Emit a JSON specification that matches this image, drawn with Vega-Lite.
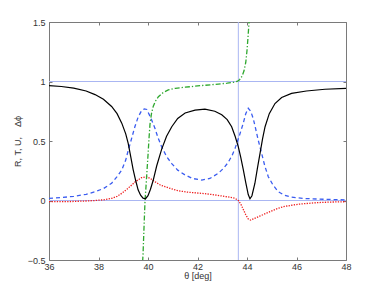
{
  "$schema": "https://vega.github.io/schema/vega-lite/v6.json",
  "autosize": "none",
  "width": 297,
  "height": 238,
  "padding": {"left": 49, "top": 22, "right": 36, "bottom": 33},
  "background": "white",
  "config": {
    "view": {"stroke": "#7a7a7a", "strokeWidth": 1},
    "axis": {"grid": false, "domain": false, "labelFlush": false, "tickColor": "#7a7a7a", "tickSize": -3, "labelFont": "Liberation Sans", "labelFontSize": 9, "labelColor": "#333", "titleFont": "Liberation Sans", "titleFontSize": 9, "titleFontWeight": "normal", "titleColor": "#333"}
  },
  "datasets": {
    "curves": [
      {"series": "R", "theta": 36, "value": 0.965}, {"series": "R", "theta": 36.5, "value": 0.958}, {"series": "R", "theta": 37, "value": 0.945}, {"series": "R", "theta": 37.5, "value": 0.92}, {"series": "R", "theta": 37.86, "value": 0.89}, {"series": "R", "theta": 38.2, "value": 0.85}, {"series": "R", "theta": 38.53, "value": 0.79}, {"series": "R", "theta": 38.75, "value": 0.73}, {"series": "R", "theta": 38.94, "value": 0.65}, {"series": "R", "theta": 39.1, "value": 0.56}, {"series": "R", "theta": 39.2, "value": 0.48}, {"series": "R", "theta": 39.3, "value": 0.37}, {"series": "R", "theta": 39.4, "value": 0.26}, {"series": "R", "theta": 39.5, "value": 0.17}, {"series": "R", "theta": 39.6, "value": 0.09}, {"series": "R", "theta": 39.7, "value": 0.045}, {"series": "R", "theta": 39.8, "value": 0.02}, {"series": "R", "theta": 39.9, "value": 0.015}, {"series": "R", "theta": 40.0, "value": 0.04}, {"series": "R", "theta": 40.1, "value": 0.095}, {"series": "R", "theta": 40.21, "value": 0.17}, {"series": "R", "theta": 40.35, "value": 0.29}, {"series": "R", "theta": 40.55, "value": 0.43}, {"series": "R", "theta": 40.75, "value": 0.54}, {"series": "R", "theta": 40.96, "value": 0.62}, {"series": "R", "theta": 41.2, "value": 0.69}, {"series": "R", "theta": 41.5, "value": 0.735}, {"series": "R", "theta": 41.9, "value": 0.76}, {"series": "R", "theta": 42.3, "value": 0.767}, {"series": "R", "theta": 42.7, "value": 0.75}, {"series": "R", "theta": 42.98, "value": 0.72}, {"series": "R", "theta": 43.2, "value": 0.68}, {"series": "R", "theta": 43.38, "value": 0.62}, {"series": "R", "theta": 43.52, "value": 0.54}, {"series": "R", "theta": 43.65, "value": 0.45}, {"series": "R", "theta": 43.75, "value": 0.36}, {"series": "R", "theta": 43.85, "value": 0.26}, {"series": "R", "theta": 43.95, "value": 0.15}, {"series": "R", "theta": 44.05, "value": 0.05}, {"series": "R", "theta": 44.12, "value": 0.015}, {"series": "R", "theta": 44.2, "value": 0.04}, {"series": "R", "theta": 44.32, "value": 0.145}, {"series": "R", "theta": 44.42, "value": 0.27}, {"series": "R", "theta": 44.53, "value": 0.4}, {"series": "R", "theta": 44.63, "value": 0.52}, {"series": "R", "theta": 44.73, "value": 0.62}, {"series": "R", "theta": 44.9, "value": 0.73}, {"series": "R", "theta": 45.13, "value": 0.815}, {"series": "R", "theta": 45.4, "value": 0.865}, {"series": "R", "theta": 45.8, "value": 0.9}, {"series": "R", "theta": 46.4, "value": 0.92}, {"series": "R", "theta": 47.15, "value": 0.935}, {"series": "R", "theta": 48, "value": 0.943},
      {"series": "T", "theta": 36, "value": 0.018}, {"series": "T", "theta": 36.5, "value": 0.025}, {"series": "T", "theta": 37, "value": 0.035}, {"series": "T", "theta": 37.5, "value": 0.052}, {"series": "T", "theta": 37.86, "value": 0.074}, {"series": "T", "theta": 38.2, "value": 0.1}, {"series": "T", "theta": 38.53, "value": 0.145}, {"series": "T", "theta": 38.75, "value": 0.2}, {"series": "T", "theta": 38.94, "value": 0.256}, {"series": "T", "theta": 39.1, "value": 0.34}, {"series": "T", "theta": 39.2, "value": 0.42}, {"series": "T", "theta": 39.35, "value": 0.53}, {"series": "T", "theta": 39.47, "value": 0.62}, {"series": "T", "theta": 39.6, "value": 0.7}, {"series": "T", "theta": 39.74, "value": 0.755}, {"series": "T", "theta": 39.85, "value": 0.77}, {"series": "T", "theta": 39.95, "value": 0.765}, {"series": "T", "theta": 40.1, "value": 0.7}, {"series": "T", "theta": 40.28, "value": 0.607}, {"series": "T", "theta": 40.4, "value": 0.53}, {"series": "T", "theta": 40.55, "value": 0.452}, {"series": "T", "theta": 40.75, "value": 0.37}, {"series": "T", "theta": 40.96, "value": 0.31}, {"series": "T", "theta": 41.2, "value": 0.255}, {"series": "T", "theta": 41.5, "value": 0.214}, {"series": "T", "theta": 41.8, "value": 0.185}, {"series": "T", "theta": 42.17, "value": 0.172}, {"series": "T", "theta": 42.5, "value": 0.185}, {"series": "T", "theta": 42.84, "value": 0.229}, {"series": "T", "theta": 43.05, "value": 0.27}, {"series": "T", "theta": 43.24, "value": 0.32}, {"series": "T", "theta": 43.4, "value": 0.38}, {"series": "T", "theta": 43.52, "value": 0.44}, {"series": "T", "theta": 43.7, "value": 0.55}, {"series": "T", "theta": 43.85, "value": 0.65}, {"series": "T", "theta": 43.95, "value": 0.73}, {"series": "T", "theta": 44.05, "value": 0.775}, {"series": "T", "theta": 44.15, "value": 0.75}, {"series": "T", "theta": 44.25, "value": 0.69}, {"series": "T", "theta": 44.32, "value": 0.63}, {"series": "T", "theta": 44.45, "value": 0.51}, {"series": "T", "theta": 44.59, "value": 0.397}, {"series": "T", "theta": 44.72, "value": 0.29}, {"series": "T", "theta": 44.86, "value": 0.2}, {"series": "T", "theta": 45.05, "value": 0.13}, {"series": "T", "theta": 45.26, "value": 0.074}, {"series": "T", "theta": 45.5, "value": 0.045}, {"series": "T", "theta": 45.8, "value": 0.028}, {"series": "T", "theta": 46.3, "value": 0.017}, {"series": "T", "theta": 47.15, "value": 0.01}, {"series": "T", "theta": 48, "value": 0.005},
      {"series": "U", "theta": 36, "value": -0.01}, {"series": "U", "theta": 36.5, "value": -0.01}, {"series": "U", "theta": 37, "value": -0.008}, {"series": "U", "theta": 37.5, "value": -0.004}, {"series": "U", "theta": 37.86, "value": 0.0}, {"series": "U", "theta": 38.2, "value": 0.006}, {"series": "U", "theta": 38.53, "value": 0.018}, {"series": "U", "theta": 38.75, "value": 0.035}, {"series": "U", "theta": 38.94, "value": 0.06}, {"series": "U", "theta": 39.15, "value": 0.095}, {"series": "U", "theta": 39.34, "value": 0.13}, {"series": "U", "theta": 39.5, "value": 0.16}, {"series": "U", "theta": 39.74, "value": 0.192}, {"series": "U", "theta": 39.93, "value": 0.2}, {"series": "U", "theta": 40.1, "value": 0.185}, {"series": "U", "theta": 40.28, "value": 0.158}, {"series": "U", "theta": 40.5, "value": 0.13}, {"series": "U", "theta": 40.69, "value": 0.116}, {"series": "U", "theta": 41.0, "value": 0.095}, {"series": "U", "theta": 41.22, "value": 0.082}, {"series": "U", "theta": 41.6, "value": 0.07}, {"series": "U", "theta": 42.17, "value": 0.06}, {"series": "U", "theta": 42.6, "value": 0.05}, {"series": "U", "theta": 42.98, "value": 0.038}, {"series": "U", "theta": 43.3, "value": 0.028}, {"series": "U", "theta": 43.52, "value": 0.018}, {"series": "U", "theta": 43.65, "value": 0.0}, {"series": "U", "theta": 43.75, "value": -0.03}, {"series": "U", "theta": 43.85, "value": -0.075}, {"series": "U", "theta": 43.95, "value": -0.12}, {"series": "U", "theta": 44.05, "value": -0.155}, {"series": "U", "theta": 44.15, "value": -0.165}, {"series": "U", "theta": 44.3, "value": -0.15}, {"series": "U", "theta": 44.53, "value": -0.13}, {"series": "U", "theta": 44.75, "value": -0.11}, {"series": "U", "theta": 44.93, "value": -0.094}, {"series": "U", "theta": 45.2, "value": -0.07}, {"series": "U", "theta": 45.47, "value": -0.052}, {"series": "U", "theta": 45.8, "value": -0.04}, {"series": "U", "theta": 46.14, "value": -0.03}, {"series": "U", "theta": 46.82, "value": -0.018}, {"series": "U", "theta": 47.4, "value": -0.013}, {"series": "U", "theta": 48, "value": -0.01},
      {"series": "dphi", "theta": 39.76, "value": -0.6}, {"series": "dphi", "theta": 39.8, "value": -0.45}, {"series": "dphi", "theta": 39.84, "value": -0.22}, {"series": "dphi", "theta": 39.88, "value": 0.0}, {"series": "dphi", "theta": 39.92, "value": 0.12}, {"series": "dphi", "theta": 39.96, "value": 0.25}, {"series": "dphi", "theta": 40.0, "value": 0.38}, {"series": "dphi", "theta": 40.04, "value": 0.52}, {"series": "dphi", "theta": 40.08, "value": 0.64}, {"series": "dphi", "theta": 40.14, "value": 0.73}, {"series": "dphi", "theta": 40.21, "value": 0.79}, {"series": "dphi", "theta": 40.3, "value": 0.835}, {"series": "dphi", "theta": 40.42, "value": 0.872}, {"series": "dphi", "theta": 40.6, "value": 0.905}, {"series": "dphi", "theta": 40.82, "value": 0.929}, {"series": "dphi", "theta": 41.1, "value": 0.943}, {"series": "dphi", "theta": 41.5, "value": 0.952}, {"series": "dphi", "theta": 42.17, "value": 0.966}, {"series": "dphi", "theta": 42.84, "value": 0.978}, {"series": "dphi", "theta": 43.2, "value": 0.986}, {"series": "dphi", "theta": 43.45, "value": 0.993}, {"series": "dphi", "theta": 43.6, "value": 1.0}, {"series": "dphi", "theta": 43.7, "value": 1.015}, {"series": "dphi", "theta": 43.8, "value": 1.045}, {"series": "dphi", "theta": 43.88, "value": 1.09}, {"series": "dphi", "theta": 43.95, "value": 1.16}, {"series": "dphi", "theta": 44.0, "value": 1.26}, {"series": "dphi", "theta": 44.04, "value": 1.37}, {"series": "dphi", "theta": 44.07, "value": 1.46}, {"series": "dphi", "theta": 44.1, "value": 1.55}
    ],
    "hlines": [{"level": 0}, {"level": 1}],
    "vlines": [{"angle": 43.65}]
  },
  "layer": [
    {
      "data": {"name": "hlines"},
      "mark": {"type": "rule", "color": "#aab6f2", "strokeWidth": 1},
      "encoding": {"y": {"field": "level", "type": "quantitative", "scale": {"domain": [-0.5, 1.5], "nice": false, "zero": false}, "axis": {"orient": "left", "values": [-0.5, 0, 0.5, 1, 1.5], "format": ".1~f", "title": "R, T, U,\u00a0\u00a0\u00a0\u00a0Δϕ", "titlePadding": 5, "labelPadding": 7}}}
    },
    {
      "data": {"name": "vlines"},
      "mark": {"type": "rule", "color": "#aab6f2", "strokeWidth": 1},
      "encoding": {"x": {"field": "angle", "type": "quantitative", "scale": {"domain": [36, 48], "nice": false, "zero": false}, "axis": {"orient": "bottom", "values": [36, 38, 40, 42, 44, 46, 48], "title": "θ [deg]", "titlePadding": 0, "labelPadding": 5}}}
    },
    {
      "data": {"name": "curves"},
      "transform": [{"filter": "datum.series !== 'R'"}],
      "mark": {"type": "line", "clip": true, "strokeWidth": 1.3},
      "encoding": {
        "x": {"field": "theta", "type": "quantitative", "scale": {"domain": [36, 48], "nice": false, "zero": false}, "axis": {"orient": "top", "values": [36, 38, 40, 42, 44, 46, 48], "labels": false, "title": null}},
        "y": {"field": "value", "type": "quantitative", "scale": {"domain": [-0.5, 1.5], "nice": false, "zero": false}, "axis": {"orient": "right", "values": [-0.5, 0, 0.5, 1, 1.5], "labels": false, "title": null}},
        "detail": {"field": "series"},
        "color": {"field": "series", "type": "nominal", "scale": {"domain": ["T", "U", "dphi"], "range": ["#3a5cf0", "#ee1c1c", "#2fa82f"]}, "legend": null},
        "strokeDash": {"field": "series", "type": "nominal", "scale": {"domain": ["T", "U", "dphi"], "range": [[4, 3], [1.3, 1.3], [5, 2, 1.3, 2]]}, "legend": null}
      }
    },
    {
      "data": {"name": "curves"},
      "transform": [{"filter": "datum.series === 'R'"}],
      "mark": {"type": "line", "clip": true, "strokeWidth": 1.2, "color": "#000000"},
      "encoding": {
        "x": {"field": "theta", "type": "quantitative", "scale": {"domain": [36, 48], "nice": false, "zero": false}, "axis": null},
        "y": {"field": "value", "type": "quantitative", "scale": {"domain": [-0.5, 1.5], "nice": false, "zero": false}, "axis": null}
      }
    }
  ],
  "resolve": {"axis": {"x": "independent", "y": "independent"}}
}
